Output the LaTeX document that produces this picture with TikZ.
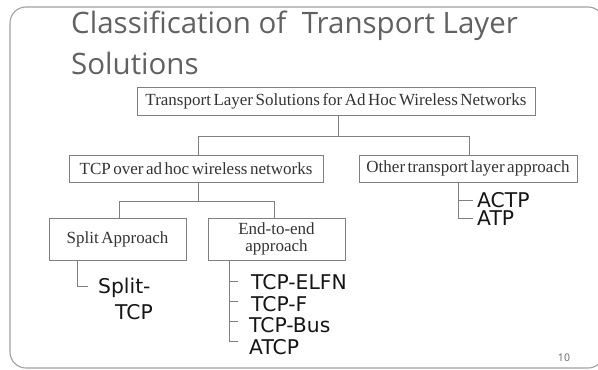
\documentclass[tikz,border=0pt]{standalone}
\usepackage{fontspec}
\setmainfont{Liberation Serif}[WordSpace=0.6]
\newfontfamily\titlefont{Open Sans}
\newfontfamily\leaffont{DejaVu Sans}
\definecolor{titlegray}{HTML}{616161}
\definecolor{framegray}{HTML}{A0A0A0}
\definecolor{boxgray}{HTML}{808080}
\definecolor{boxtext}{HTML}{333333}
\definecolor{leaftext}{HTML}{151515}
\tikzset{
  frame/.style={draw=framegray, line width=1.1pt, rounded corners=16pt},
  titletext/.style={font=\titlefont\fontsize{29.5}{34}\selectfont, text=titlegray, inner sep=0pt, anchor=base west},
  catbox/.style={draw=boxgray, line width=0.9pt, inner sep=0pt, font=\fontsize{17}{18}\selectfont, text=boxtext, align=center},
  conn/.style={draw=boxgray, line width=0.9pt},
  leaf/.style={font=\leaffont\fontsize{20.3}{22}\selectfont, text=leaftext, inner sep=0pt, anchor=west},
  pagenum/.style={font=\titlefont\fontsize{10.5}{12}\selectfont, text=titlegray, inner sep=0pt}
}
\begin{document}
\begin{tikzpicture}[x=1pt,y=-1pt]
\useasboundingbox (0,0) rectangle (598,370);
\begin{scope}
  \clip (0,0) rectangle (598,370);
  \draw[frame] (10,7) rectangle (604,368);
\end{scope}

\node[titletext] (t1) at (71,33) {Classification of\ \ Transport Layer};
\node[titletext] (t2) at (71,74) {Solutions};

\node[catbox, minimum width=398pt, minimum height=28pt] (top) at (336,101.5) {Transport Layer Solutions for Ad Hoc Wireless Networks};
\node[catbox, minimum width=254pt, minimum height=27pt] (tcp) at (196,168.5) {TCP over ad hoc wireless networks};
\node[catbox, minimum width=218pt, minimum height=27pt] (other) at (468,168.5) {Other transport layer approach};
\node[catbox, minimum width=137pt, minimum height=42pt] (split) at (117.5,239) {Split Approach};
\node[catbox, minimum width=137pt, minimum height=42pt] (endb) at (276.5,239) {End-to-end\\[-1pt]approach};

% level 1 connectors
\draw[conn] ([xshift=2pt]top.south) -- ++(0,20) coordinate (j1);
\draw[conn] ([xshift=2pt]tcp.north) |- (j1) -| ([xshift=1pt]other.north);
% level 2 connectors
\draw[conn] ([xshift=2pt]tcp.south) -- ++(0,19) coordinate (j2);
\draw[conn] ([xshift=1.5pt]split.north) |- (j2) -| ([xshift=-2.5pt]endb.north);

% other approach leaves
\node[leaf] (actp) at (477,200) {ACTP};
\node[leaf] (atp) at (477,218.5) {ATP};
\coordinate (o0) at ([xshift=-10pt]other.south);
\draw[conn] (o0) |- ([xshift=-4pt]atp.west);
\draw[conn] (o0 |- actp.west) -- ([xshift=-4pt]actp.west);

% split leaves
\node[leaf] (sp1) at (98,288) {Split-};
\node[leaf] (sp2) at (115,312) {TCP};
\coordinate (s0) at ([xshift=-40.5pt]split.south);
\coordinate (s1) at (88,286);
\draw[conn] (s0) |- (s1);

% end-to-end leaves
\node[leaf] (e1) at (251,282) {TCP-ELFN};
\node[leaf] (e2) at (251,304) {TCP-F};
\node[leaf] (e3) at (249,325) {TCP-Bus};
\node[leaf] (e4) at (249,347) {ATCP};
\coordinate (e0) at ([xshift=-47.5pt]endb.south);
\coordinate (k1) at (238,281);
\coordinate (k2) at (238,301);
\coordinate (k3) at (238,321);
\coordinate (k4) at (238,341);
\draw[conn] (e0) |- (k4);
\draw[conn] (e0 |- k1) -- (k1);
\draw[conn] (e0 |- k2) -- (k2);
\draw[conn] (e0 |- k3) -- (k3);

\node[pagenum] (pn) at (564,358) {10};
\end{tikzpicture}
\end{document}
